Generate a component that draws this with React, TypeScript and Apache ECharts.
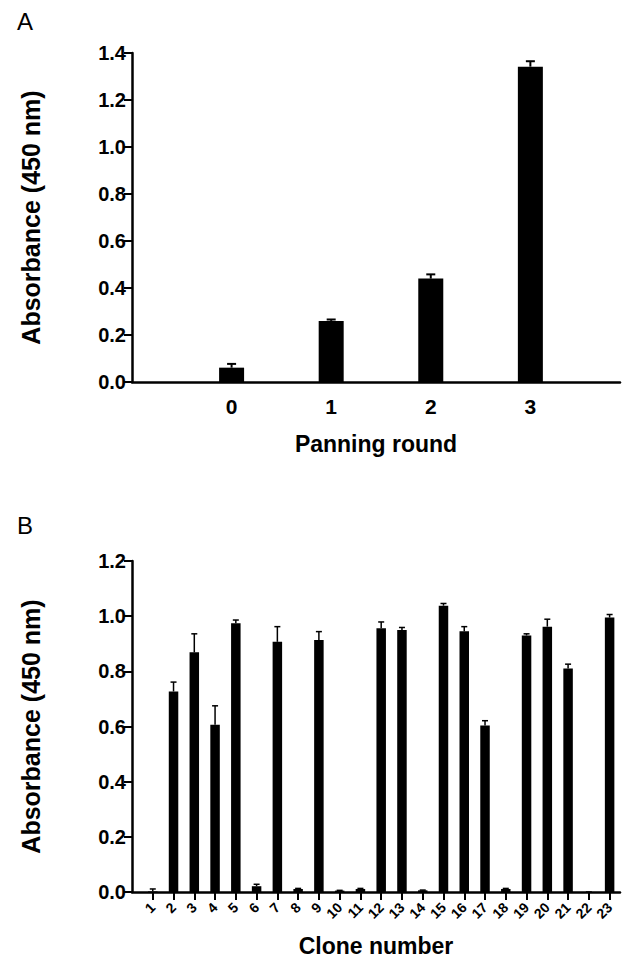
import React, { useEffect, useRef } from "react";
import * as echarts from "echarts";

// Panel A: panning rounds
const rounds = [0, 1, 2, 3];
const absA = [0.061, 0.26, 0.44, 1.342];
const errA = [0.016, 0.006, 0.018, 0.023];
const yTicksA = [0, 0.2, 0.4, 0.6, 0.8, 1.0, 1.2, 1.4];

// Panel B: clones
const clones = [1, 2, 3, 4, 5, 6, 7, 8, 9, 10, 11, 12, 13, 14, 15, 16, 17, 18, 19, 20, 21, 22, 23];
const absB = [0.002, 0.727, 0.869, 0.606, 0.974, 0.021, 0.907, 0.011, 0.914, 0.005, 0.011, 0.956, 0.95, 0.006, 1.038, 0.945, 0.604, 0.011, 0.93, 0.962, 0.81, 0.0, 0.995];
const errB = [0.009, 0.034, 0.067, 0.069, 0.012, 0.007, 0.055, 0.002, 0.03, 0.001, 0.002, 0.023, 0.009, 0.001, 0.008, 0.017, 0.017, 0.002, 0.006, 0.027, 0.016, 0.0, 0.011];
const yTicksB = [0, 0.2, 0.4, 0.6, 0.8, 1.0, 1.2];

const FONT = "Liberation Sans, Arial, sans-serif";

function errorSeries(xIdx: number, xs: number[], ys: number[], es: number[], cap: number, lw: number) {
  return {
    type: "custom",
    xAxisIndex: xIdx,
    yAxisIndex: xIdx,
    z: 1,
    data: xs.map((x, i) => [x, ys[i], ys[i] + es[i]]),
    renderItem: (params: any, api: any) => {
      const x = api.value(0);
      const lo = api.coord([x, api.value(1)]);
      const hi = api.coord([x, api.value(2)]);
      const style = { stroke: "#000", lineWidth: lw };
      return {
        type: "group",
        children: [
          { type: "line", shape: { x1: lo[0], y1: lo[1], x2: hi[0], y2: hi[1] }, style },
          { type: "line", shape: { x1: hi[0] - cap / 2, y1: hi[1], x2: hi[0] + cap / 2, y2: hi[1] }, style },
        ],
      };
    },
  };
}

export default function App() {
  const ref = useRef<HTMLDivElement>(null);
  useEffect(() => {
    if (!ref.current) return;
    const chart = echarts.init(ref.current, null, { renderer: "svg" });
    const lineStyle = { color: "#000", width: 2.5 };
    const yLabel = {
      color: "#000",
      fontFamily: FONT,
      fontWeight: "bold",
      fontSize: 20,
      margin: 6,
      formatter: (v: number) => v.toFixed(1),
    };
    const yName = {
      color: "#000",
      fontFamily: FONT,
      fontWeight: "bold",
      fontSize: 25,
    };
    chart.setOption({
      animation: false,
      backgroundColor: "#fff",
      title: [
        { text: "A", left: 17, top: 9, padding: 0, textStyle: { fontFamily: FONT, fontWeight: "normal", fontSize: 24, color: "#000" } },
        { text: "B", left: 17, top: 513, padding: 0, textStyle: { fontFamily: FONT, fontWeight: "normal", fontSize: 24, color: "#000" } },
      ],
      grid: [
        { left: 132, right: 3, top: 53, height: 329 },
        { left: 132, right: 3, top: 561, height: 331 },
      ],
      xAxis: [
        {
          gridIndex: 0,
          type: "value",
          min: -1,
          max: 3.9,
          interval: 1,
          splitLine: { show: false },
          axisLine: { show: true, onZero: false, lineStyle },
          axisTick: { show: false },
          axisLabel: {
            customValues: rounds,
            color: "#000",
            fontFamily: FONT,
            fontWeight: "bold",
            fontSize: 21,
            margin: 14,
            formatter: (v: number) => String(v),
          },
          name: "Panning round",
          nameLocation: "middle",
          nameGap: 50,
          nameTextStyle: { color: "#000", fontFamily: FONT, fontWeight: "bold", fontSize: 23 },
        },
        {
          gridIndex: 1,
          type: "value",
          min: 0,
          max: 23.5,
          interval: 1,
          splitLine: { show: false },
          axisLine: { show: true, onZero: false, lineStyle },
          axisTick: { show: true, customValues: clones, length: 8, lineStyle: { color: "#000", width: 2 } },
          axisLabel: {
            customValues: clones,
            rotate: 45,
            color: "#000",
            fontFamily: FONT,
            fontWeight: "bold",
            fontSize: 14,
            margin: 13,
            formatter: (v: number) => String(v),
          },
          name: "Clone number",
          nameLocation: "middle",
          nameGap: 42,
          nameTextStyle: { color: "#000", fontFamily: FONT, fontWeight: "bold", fontSize: 23 },
        },
      ],
      yAxis: [
        {
          gridIndex: 0,
          type: "value",
          min: yTicksA[0],
          max: yTicksA[yTicksA.length - 1],
          interval: 0.2,
          splitLine: { show: false },
          axisLine: { show: true, onZero: false, lineStyle },
          axisTick: { show: true, length: 8, lineStyle: { color: "#000", width: 2 } },
          axisLabel: yLabel,
          name: "Absorbance (450 nm)",
          nameLocation: "middle",
          nameGap: 89,
          nameTextStyle: yName,
        },
        {
          gridIndex: 1,
          type: "value",
          min: yTicksB[0],
          max: yTicksB[yTicksB.length - 1],
          interval: 0.2,
          splitLine: { show: false },
          axisLine: { show: true, onZero: false, lineStyle },
          axisTick: { show: true, length: 8, lineStyle: { color: "#000", width: 2 } },
          axisLabel: yLabel,
          name: "Absorbance (450 nm)",
          nameLocation: "middle",
          nameGap: 89,
          nameTextStyle: yName,
        },
      ],
      series: [
        {
          type: "bar",
          xAxisIndex: 0,
          yAxisIndex: 0,
          barWidth: 25,
          itemStyle: { color: "#000" },
          z: 2,
          data: rounds.map((r, i) => [r, absA[i]]),
        },
        errorSeries(0, rounds, absA, errA, 9, 2),
        {
          type: "bar",
          xAxisIndex: 1,
          yAxisIndex: 1,
          barWidth: 9.5,
          itemStyle: { color: "#000" },
          z: 2,
          data: clones.map((c, i) => [c, absB[i]]),
        },
        errorSeries(1, clones, absB, errB, 6, 1.5),
      ],
    });
    return () => chart.dispose();
  }, []);
  return (
    <div
      ref={ref}
      style={{ position: "fixed", left: 0, top: 0, width: 623, height: 965, background: "#fff" }}
    />
  );
}
